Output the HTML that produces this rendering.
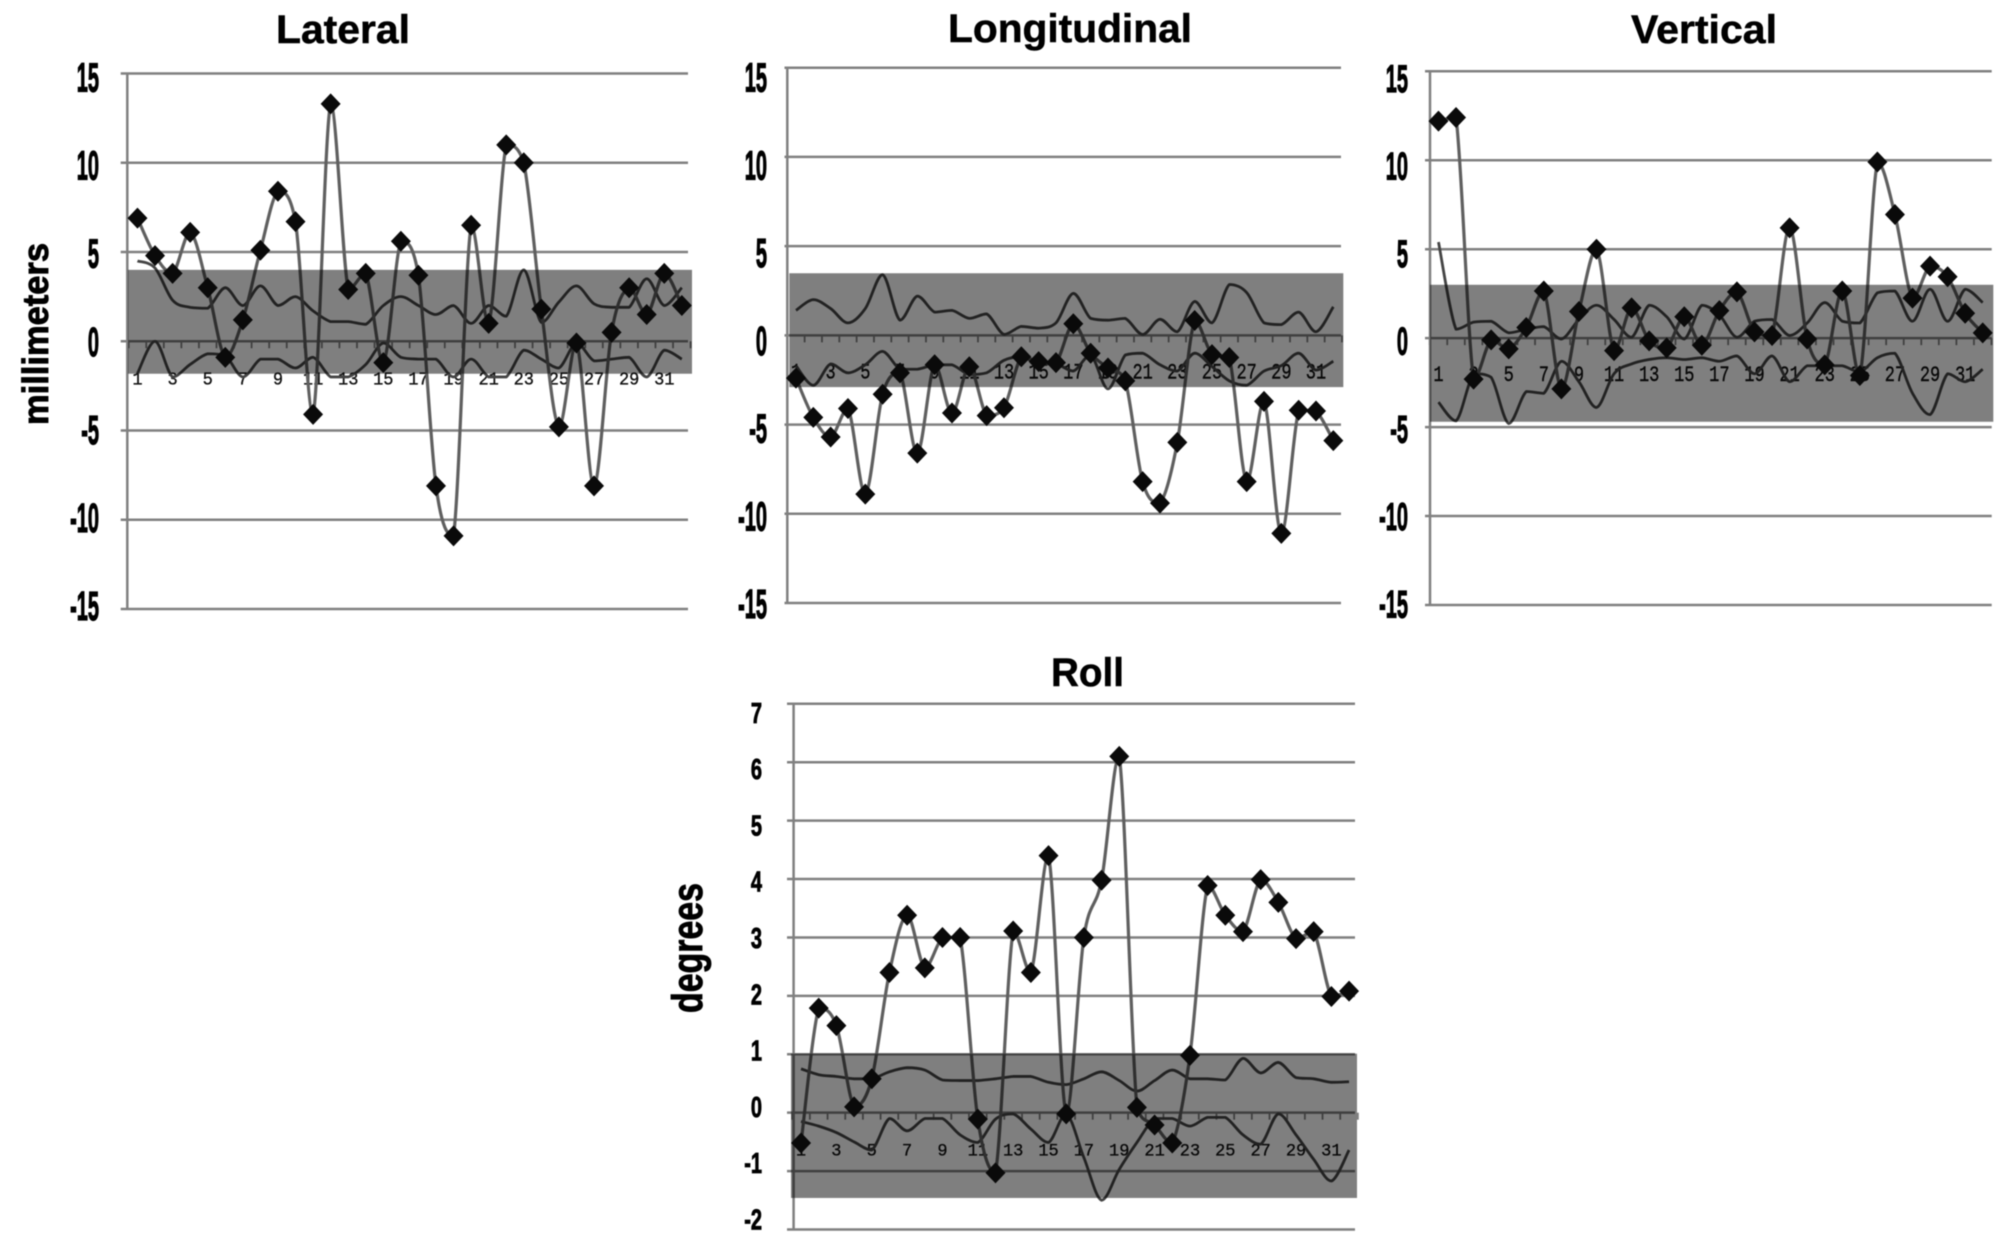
<!DOCTYPE html>
<html lang="en">
<head>
<meta charset="utf-8">
<title>Lateral, Longitudinal, Vertical and Roll charts</title>
<style>
html,body{margin:0;padding:0;background:#fff;}
#figure{display:block;width:2008px;height:1245px;filter:blur(0.5px);}
.title{font-family:"Liberation Sans",sans-serif;font-weight:700;font-size:40px;fill:#000;stroke:#000;stroke-width:0.5px;}
.axis-title{font-family:"Liberation Sans",sans-serif;font-weight:700;fill:#000;stroke:#000;stroke-width:0.9px;}
</style>
</head>
<body>
<svg id="figure" xmlns="http://www.w3.org/2000/svg" width="2008" height="1245" viewBox="0 0 2008 1245">
  <rect x="0" y="0" width="2008" height="1245" fill="#fff"/>
  <g id="charts"></g>
  <text class="title" x="276" y="43" textLength="134" lengthAdjust="spacingAndGlyphs">Lateral</text>
  <text class="title" x="948" y="42" textLength="244" lengthAdjust="spacingAndGlyphs">Longitudinal</text>
  <text class="title" x="1631" y="43" textLength="146" lengthAdjust="spacingAndGlyphs">Vertical</text>
  <text class="title" x="1051" y="686" textLength="73" lengthAdjust="spacingAndGlyphs">Roll</text>
  <text class="axis-title" font-size="36" transform="translate(48,425) rotate(-90)" textLength="182" lengthAdjust="spacingAndGlyphs">millimeters</text>
  <text class="axis-title" font-size="43" transform="translate(702,1013) rotate(-90)" textLength="130" lengthAdjust="spacingAndGlyphs">degrees</text>
</svg>
<script>
const categories = [1,2,3,4,5,6,7,8,9,10,11,12,13,14,15,16,17,18,19,20,21,22,23,24,25,26,27,28,29,30,31,32];
const categoryTickLabels = ['1','3','5','7','9','11','13','15','17','19','21','23','25','27','29','31'];
const mmTicks = [15,10,5,0,-5,-10,-15];
const degreeTicks = [7,6,5,4,3,2,1,0,-1,-2];

const lateralValues = [6.9,4.8,3.8,6.1,3.0,-0.9,1.2,5.1,8.4,6.7,-4.1,13.3,2.9,3.8,-1.2,5.6,3.7,-8.1,-10.9,6.5,1.0,11,10,1.8,-4.8,-0.1,-8.1,0.5,3.0,1.5,3.8,2.0];
const lateralUpper = [4.5,4.1,2.3,1.9,1.85,3.0,2.0,3.1,2.0,2.5,1.7,1.1,1.1,0.95,2.0,2.5,2.0,1.5,2.0,1.0,2.0,1.4,4.0,1.05,2.2,3.1,2.1,1.9,1.9,3.5,2.0,3.0];
const lateralLower = [-1.8,0,-2.0,-1.3,-0.7,-0.8,-2.0,-1.0,-1.0,-1.5,-0.9,-2,-2,-1.3,-0.1,-0.9,-1.0,-1.0,-2,-1,-2,-2,-0.5,-1.0,-1.5,-0.1,-1.1,-1.0,-0.9,-2,-0.5,-1.0];
const lateralBand = [4,-1.82];

const longitudinalValues = [-2.4,-4.6,-5.7,-4.1,-8.9,-3.3,-2.1,-6.6,-1.65,-4.35,-1.76,-4.5,-4.06,-1.2,-1.47,-1.53,0.65,-1.0,-1.83,-2.55,-8.2,-9.4,-6,0.83,-1.08,-1.24,-8.2,-3.7,-11.1,-4.2,-4.24,-5.9];
const longitudinalUpper = [1.4,2.0,1.5,0.7,1.5,3.4,0.85,2.2,1.3,1.4,0.95,1.2,0.05,0.5,0.4,0.7,2.35,0.95,0.85,0.95,0.05,0.9,0.2,1.9,0.7,2.85,2.4,0.7,0.6,1.3,0.2,1.6];
const longitudinalLower = [-1.7,-2.8,-1.6,-2.1,-1.65,-0.9,-1.9,-1.9,-1.65,-1.65,-2.2,-2.1,-1.4,-1.2,-1.6,-1.6,-2.0,-1.1,-3.0,-1.1,-1.0,-1.65,-2.0,-1.0,-1.75,-2.55,-2.8,-2,-1.7,-1,-1.95,-1.45];
const longitudinalBand = [3.48,-2.9];

const verticalValues = [12.2,12.4,-2.3,-0.1,-0.6,0.6,2.65,-2.85,1.5,5.0,-0.7,1.7,-0.15,-0.55,1.2,-0.4,1.55,2.6,0.35,0.15,6.2,-0.05,-1.5,2.65,-2.1,9.9,6.95,2.25,4.05,3.45,1.4,0.3];
const verticalUpper = [5.4,0.5,0.9,0.95,0.3,0.5,0.65,-0.05,1.05,1.85,1.05,0.05,1.85,1.2,-0.05,1.85,1.3,0.05,0.95,1.05,0.15,0.85,2.0,0.95,0.85,2.55,2.65,0.95,2.75,0.95,2.75,2.0];
const verticalLower = [-3.6,-4.65,-2.0,-2.2,-4.8,-3.0,-3.1,-1.3,-2.45,-3.9,-2.0,-1.45,-1.2,-1.1,-1.2,-1.1,-1.3,-1.0,-2,-1.0,-2.45,-1.55,-1.55,-1.55,-1.9,-1.1,-0.85,-3.1,-4.3,-2,-2.45,-1.75];
const verticalBand = [3.0,-4.7];

const rollValues = [-0.52,1.79,1.49,0.1,0.58,2.4,3.38,2.48,3.0,3.0,-0.11,-1.03,3.11,2.4,4.4,-0.02,3.0,3.98,6.1,0.09,-0.21,-0.52,0.98,3.89,3.38,3.1,3.99,3.6,2.98,3.1,1.99,2.08];
const rollUpper = [0.75,0.65,0.62,0.58,0.58,0.7,0.77,0.73,0.56,0.55,0.55,0.58,0.62,0.62,0.52,0.48,0.58,0.7,0.55,0.37,0.55,0.73,0.58,0.58,0.56,0.93,0.68,0.86,0.6,0.58,0.52,0.53];
const rollLower = [-0.15,-0.23,-0.34,-0.5,-0.64,-0.1,-0.31,-0.1,-0.1,-0.38,-0.51,-0.11,-0.02,-0.28,-0.51,-0.02,-0.77,-1.5,-0.97,-0.51,-0.1,-0.1,-0.23,-0.08,-0.08,-0.38,-0.54,-0.02,-0.38,-0.8,-1.17,-0.64];
const rollBand = [1.01,-1.46];

const panels = [
  {key:'lateral', ticks:mmTicks, values:lateralValues, upper:lateralUpper, lower:lateralLower, band:lateralBand,
   axisX:127.3, left:128.7, plotW:561.9, top:73.5, bottom:609, gridLeft:120.7, gridRight:688, bandLeft:128, bandRight:692, labelRight:99, labelH:28, labelTopOff:4, labelBotOff:-3, catScale:1.1},
  {key:'longitudinal', ticks:mmTicks, values:longitudinalValues, upper:longitudinalUpper, lower:longitudinalLower, band:longitudinalBand,
   axisX:787.3, left:787.3, plotW:554.7, top:67.7, bottom:603, gridLeft:784.5, gridRight:1341, bandLeft:789.3, bandRight:1343.3, labelRight:767, labelH:28, labelTopOff:10, labelBotOff:1, catScale:1.3},
  {key:'vertical', ticks:mmTicks, values:verticalValues, upper:verticalUpper, lower:verticalLower, band:verticalBand,
   axisX:1430, left:1429.7, plotW:561.8, top:71.3, bottom:605, gridLeft:1425, gridRight:1991.7, bandLeft:1430, bandRight:1993.3, labelRight:1408, labelH:27, labelTopOff:7, labelBotOff:-1, catScale:1.3},
  {key:'roll', ticks:degreeTicks, values:rollValues, upper:rollUpper, lower:rollLower, band:rollBand,
   axisX:793.6, left:792.2, plotW:565.7, top:703.8, bottom:1229.5, gridLeft:787, gridRight:1355, bandLeft:791, bandRight:1357, labelRight:762, labelH:20, labelTopOff:9, labelBotOff:-10, catScale:1.05}
];

const NS = 'http://www.w3.org/2000/svg';
const root = document.getElementById('charts');

function make(tag, attrs, parent) {
  const node = document.createElementNS(NS, tag);
  for (const k in attrs) node.setAttribute(k, attrs[k]);
  parent.appendChild(node);
  return node;
}

function clampTo(v, a, b) {
  return Math.max(Math.min(a, b), Math.min(Math.max(a, b), v));
}

function smoothPath(pts) {
  let d = 'M' + pts[0][0].toFixed(2) + ' ' + pts[0][1].toFixed(2);
  for (let i = 0; i < pts.length - 1; i++) {
    const p0 = pts[Math.max(0, i - 1)];
    const p1 = pts[i];
    const p2 = pts[i + 1];
    const p3 = pts[Math.min(pts.length - 1, i + 2)];
    const c1x = p1[0] + (p2[0] - p0[0]) / 6;
    const c1y = clampTo(p1[1] + (p2[1] - p0[1]) / 6, p1[1], p2[1]);
    const c2x = p2[0] - (p3[0] - p1[0]) / 6;
    const c2y = clampTo(p2[1] - (p3[1] - p1[1]) / 6, p1[1], p2[1]);
    d += 'C' + c1x.toFixed(2) + ' ' + c1y.toFixed(2) + ' ' + c2x.toFixed(2) + ' ' + c2y.toFixed(2) + ' ' + p2[0].toFixed(2) + ' ' + p2[1].toFixed(2);
  }
  return d;
}

panels.forEach(function (p) {
  const maxV = p.ticks[0];
  const minV = p.ticks[p.ticks.length - 1];
  const step = p.plotW / categories.length;
  const xScale = function (i) { return p.left + (i + 0.5) * step; };
  const yScale = function (v) { return p.top + (maxV - v) / (maxV - minV) * (p.bottom - p.top); };

  const g = make('g', {}, root);
  
  

  p.ticks.forEach(function (t) {
    const y = yScale(t);
    const line = make('line', {x1: p.gridLeft, x2: p.gridRight, y1: y, y2: y, stroke: '#808080', 'stroke-width': 2.5}, g);
    
    

    const frac = (maxV - t) / (maxV - minV);
    const off = p.labelTopOff + (p.labelBotOff - p.labelTopOff) * frac;
    const sy = p.labelH / 27.5;
    const label = make('text', {
      transform: 'translate(' + p.labelRight + ',' + (y + off + p.labelH / 2).toFixed(2) + ') scale(0.5,' + sy.toFixed(3) + ')',
      'font-family': '"Liberation Sans",sans-serif', 'font-weight': 700, 'font-size': 40,
      'text-anchor': 'end', fill: '#000', stroke: '#000', 'stroke-width': 1.2
    }, g);
    label.textContent = String(t);
    
    
  });

  const axis = make('line', {x1: p.axisX, x2: p.axisX, y1: p.top, y2: p.bottom, stroke: '#808080', 'stroke-width': 2.5}, g);
  
  

  const y0 = yScale(0);
  for (let k = 0; k <= categories.length; k++) {
    const tx = p.left + k * step;
    const tick = make('line', {x1: tx, x2: tx, y1: y0, y2: y0 + 7, stroke: '#808080', 'stroke-width': 1.8}, g);
    
    
  }

  categoryTickLabels.forEach(function (lbl) {
    const idx = categories.indexOf(Number(lbl));
    const t = make('text', {
      transform: 'translate(' + xScale(idx).toFixed(2) + ',' + (y0 + 43).toFixed(2) + ') scale(1,' + p.catScale + ')',
      'text-anchor': 'middle',
      'font-family': '"Liberation Mono",monospace', 'font-size': 17,
      fill: '#111', stroke: '#111', 'stroke-width': 0.3
    }, g);
    t.textContent = lbl;
    
    
  });

  const upperPts = p.upper.map(function (v, i) { return [xScale(i), yScale(v)]; });
  const upperLine = make('path', {d: smoothPath(upperPts), fill: 'none', stroke: '#444', 'stroke-width': 2.8, 'stroke-linejoin': 'round'}, g);
  
  

  const lowerPts = p.lower.map(function (v, i) { return [xScale(i), yScale(v)]; });
  const lowerLine = make('path', {d: smoothPath(lowerPts), fill: 'none', stroke: '#444', 'stroke-width': 2.8, 'stroke-linejoin': 'round'}, g);
  
  

  const valuePts = p.values.map(function (v, i) { return [xScale(i), yScale(v)]; });
  const valueLine = make('path', {d: smoothPath(valuePts), fill: 'none', stroke: '#5f5f5f', 'stroke-width': 3.2, 'stroke-linejoin': 'round'}, g);
  
  

  const bandTop = yScale(p.band[0]);
  const bandBottom = yScale(p.band[1]);
  const band = make('rect', {x: p.bandLeft, y: bandTop, width: p.bandRight - p.bandLeft, height: bandBottom - bandTop, fill: '#000', 'fill-opacity': 0.5}, g);
  
  

  valuePts.forEach(function (pt) {
    const hw = 10, hh = 10.5;
    const marker = make('polygon', {
      points: [pt[0] - hw, pt[1], pt[0], pt[1] - hh, pt[0] + hw, pt[1], pt[0], pt[1] + hh].join(' '),
      fill: '#0a0a0a'
    }, g);
    
    
  });
});
</script>
</body>
</html>
